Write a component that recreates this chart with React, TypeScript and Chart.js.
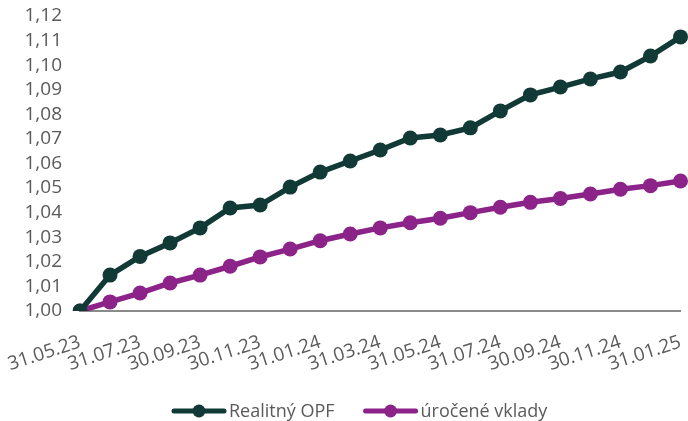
import React, { useEffect, useRef } from "react";
import { Chart, registerables } from "chart.js";

Chart.register(...registerables);

const dates = [
  "31.05.23", "30.06.23", "31.07.23", "31.08.23", "30.09.23", "31.10.23", "30.11.23",
  "31.12.23", "31.01.24", "29.02.24", "31.03.24", "30.04.24", "31.05.24", "30.06.24",
  "31.07.24", "31.08.24", "30.09.24", "31.10.24", "30.11.24", "31.12.24", "31.01.25",
];

const realitnyOPF = [
  1.0, 1.0146, 1.0222, 1.0277, 1.0338, 1.0419, 1.0431, 1.0504, 1.0565, 1.061, 1.0655,
  1.0704, 1.0716, 1.0745, 1.0814, 1.0879, 1.0911, 1.0944, 1.0972, 1.1037, 1.1115,
];

const urocene = [
  1.0, 1.0037, 1.0073, 1.0114, 1.0146, 1.0182, 1.022, 1.0252, 1.0286, 1.0313, 1.0338,
  1.0359, 1.0377, 1.04, 1.0422, 1.0442, 1.0458, 1.0476, 1.0495, 1.051, 1.0529,
];

const seriesNames = ["Realitný OPF", "úročené vklady"];
const GREEN = "#113a36";
const PURPLE = "#8b2388";
const TEXT = "#5a5a5a";
const FONT = "'Open Sans', Lato, sans-serif";

const customLegend = {
  id: "customLegend",
  afterDraw(chart: any) {
    const ctx = chart.ctx as CanvasRenderingContext2D;
    const startX = 172;
    const cy = 411;
    const lineLen = 54;
    const gapText = 3;
    const gapItem = 29;
    ctx.save();
    ctx.font = `18px ${FONT}`;
    ctx.textBaseline = "middle";
    ctx.textAlign = "left";
    let x = startX;
    chart.data.datasets.forEach((ds: any) => {
      const color = ds.borderColor;
      ctx.strokeStyle = color;
      ctx.lineWidth = 5;
      ctx.lineCap = "round";
      ctx.beginPath();
      ctx.moveTo(x + 2, cy);
      ctx.lineTo(x + lineLen - 2, cy);
      ctx.stroke();
      ctx.fillStyle = color;
      ctx.beginPath();
      ctx.arc(x + lineLen / 2, cy, 6.5, 0, Math.PI * 2);
      ctx.fill();
      ctx.fillStyle = TEXT;
      const tx = x + lineLen + gapText;
      ctx.fillText(ds.label, tx, cy + 1);
      x = tx + ctx.measureText(ds.label).width + gapItem;
    });
    ctx.restore();
  },
};

export default function App() {
  const ref = useRef<HTMLCanvasElement | null>(null);

  useEffect(() => {
    document.body.style.margin = "0";
    const chart = new Chart(ref.current!, {
      type: "line",
      data: {
        labels: dates,
        datasets: [
          {
            label: seriesNames[0],
            data: realitnyOPF,
            borderColor: GREEN,
            backgroundColor: GREEN,
            borderWidth: 5.5,
            pointRadius: 7.5,
            pointBackgroundColor: GREEN,
            pointBorderColor: GREEN,
            pointBorderWidth: 0,
            tension: 0,
          },
          {
            label: seriesNames[1],
            data: urocene,
            borderColor: PURPLE,
            backgroundColor: PURPLE,
            borderWidth: 5.5,
            pointRadius: 7.5,
            pointBackgroundColor: PURPLE,
            pointBorderColor: PURPLE,
            pointBorderWidth: 0,
            tension: 0,
          },
        ],
      },
      plugins: [customLegend],
      options: {
        animation: false,
        responsive: false,
        layout: { padding: { top: 16, right: 7, left: 0, bottom: 0 } },
        events: [],
        plugins: {
          tooltip: { enabled: false },
          legend: { display: false },
        },
        scales: {
          x: {
            offset: false,
            grid: { display: false, drawTicks: false },
            border: { display: true, color: "#8a8a8a", width: 2 },
            ticks: {
              color: TEXT,
              font: { family: FONT, size: 19 },
              autoSkip: false,
              minRotation: 18,
              maxRotation: 18,
              padding: 20,
              callback: (_v: any, i: number) => (i % 2 === 0 ? dates[i] : ""),
            },
            afterFit: (s: any) => {
              s.height = 110;
              s.paddingLeft = 0;
              s.paddingRight = 0;
            },
          },
          y: {
            min: 1.0,
            max: 1.12,
            grid: { display: false, drawTicks: false },
            border: { display: false },
            ticks: {
              stepSize: 0.01,
              autoSkip: false,
              color: TEXT,
              font: { family: FONT, size: 19 },
              padding: 18,
              callback: (v: any) => Number(v).toFixed(2).replace(".", ","),
            },
            afterFit: (s: any) => {
              s.width = 80;
              s.paddingTop = 0;
              s.paddingBottom = 0;
            },
          },
        },
      },
    });
    return () => chart.destroy();
  }, []);

  return (
    <div style={{ position: "absolute", left: 0, top: 0, width: 688, height: 421 }}>
      <canvas ref={ref} width={688} height={421} />
    </div>
  );
}
